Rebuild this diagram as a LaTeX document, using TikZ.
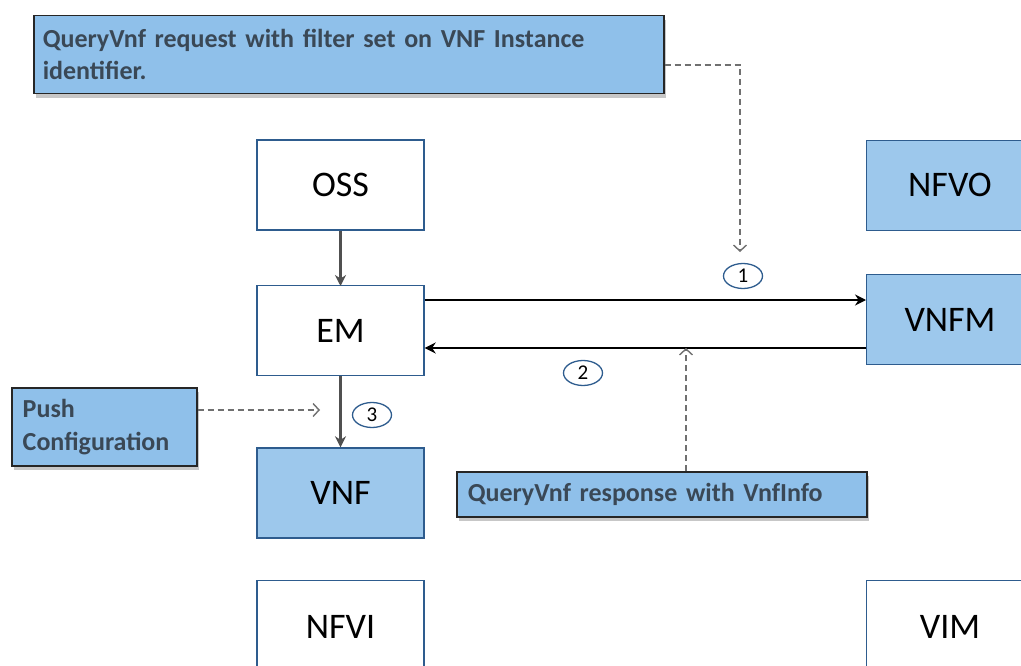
\documentclass[tikz,border=0pt]{standalone}
\usepackage{fontspec}
\setmainfont{Carlito}
\usetikzlibrary{arrows.meta,shadows,shapes.geometric}
\definecolor{boxedge}{HTML}{2E5C8E}
\definecolor{boxfill}{HTML}{9DC8EC}
\definecolor{notefill}{HTML}{8FC0EA}
\definecolor{notetext}{HTML}{3A4856}
\definecolor{arrowgray}{HTML}{505050}
\definecolor{dashgray}{HTML}{707070}
\tikzset{
  labelfont/.style={font=\fontsize{36}{42}\selectfont},
  plainbox/.style={draw=boxedge, line width=1.4pt, fill=white, minimum width=167pt, minimum height=90pt, inner sep=0pt, labelfont},
  bluebox/.style={plainbox, fill=boxfill},
  note/.style={draw=black!85, line width=1.5pt, fill=notefill, inner ysep=0pt, text=notetext, align=left,
    drop shadow={shadow xshift=2pt, shadow yshift=-4pt, opacity=0.4, fill=black!55}},
  stepnum/.style={draw=boxedge, line width=1.3pt, ellipse, minimum width=39pt, minimum height=25pt, inner sep=0pt, font=\fontsize{21}{22}\selectfont},
  flow/.style={line width=2.4pt, -{Stealth[length=11pt,width=11pt]}},
  hint/.style={dashgray, line width=1.4pt, dash pattern=on 6pt off 4pt, -{Straight Barb[length=6pt,width=13pt,line width=1.4pt]}}
}
\begin{document}
\begin{tikzpicture}[x=1pt,y=-1pt]
\useasboundingbox (0,0) rectangle (1021,666);
\clip (0,0) rectangle (1021,666);
\fill[white] (0,0) rectangle (1021,666);

% left column
\node[plainbox] (oss) at (340.5,185) {OSS};
\node[plainbox] (em) at (340.5,330.5) {EM};
\node[bluebox] (vnf) at (340.5,493) {VNF};
\node[plainbox, minimum height=100pt, anchor=north] (nfvi) at (340.5,580) {};
\node[labelfont] at (340.5,627) {NFVI};

% right column (runs past the right edge)
\node[bluebox, minimum width=190pt, anchor=north west] (nfvo) at (866,140) {};
\node[labelfont] at (950,185) {NFVO};
\node[bluebox, minimum width=190pt, anchor=north west] (vnfm) at (866,274) {};
\node[labelfont] at (950,320) {VNFM};
\node[plainbox, minimum width=190pt, minimum height=100pt, anchor=north west] (vim) at (866,580) {};
\node[labelfont] at (950,627) {VIM};

% notes
\node[note, font=\bfseries\fontsize{26}{32}\selectfont, minimum width=630pt, minimum height=78pt, anchor=north west,
      inner xsep=9pt, text width=612pt] (req) at (33,15)
  {QueryVnf request with filter set on VNF Instance\\identifier.};
\node[note, font=\bfseries\fontsize{26}{33}\selectfont, minimum width=185pt, minimum height=78pt, anchor=north west,
      inner xsep=11pt, text width=163pt] (push) at (11,387)
  {Push\\Configuration};
\node[note, font=\bfseries\fontsize{26}{30}\selectfont, minimum width=410pt, minimum height=45pt, anchor=north west,
      inner xsep=11pt, text width=388pt] (resp) at (456,471)
  {QueryVnf response with VnfInfo};

% solid flows
\draw[flow, arrowgray] (oss.south) -- (em.south |- 0,286);
\draw[flow, arrowgray] (em.south) -- (vnf.north);
\draw[flow, black] (em.east |- 0,300) -- (vnfm.west |- 0,300);
\draw[flow, black] (vnfm.west |- 0,348) -- (em.east |- 0,348);

% step markers
\node[stepnum] (s1) at (743,276) {1};
\node[stepnum] (s2) at (583,373) {2};
\node[stepnum] (s3) at (372,415) {3};

% dashed hints
\coordinate (reqtip) at (740,252);
\draw[hint] (req.east |- 0,65) -| (reqtip);
\coordinate (resptip) at (686,348);
\draw[hint] (resp.north -| resptip) -- (resptip);
\coordinate (pushtip) at (320,410);
\draw[hint] (push.east |- pushtip) -- (pushtip);
\end{tikzpicture}
\end{document}
